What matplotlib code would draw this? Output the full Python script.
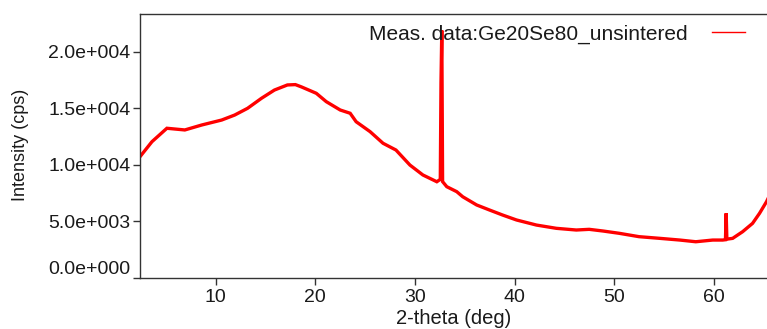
import numpy as np
import matplotlib
matplotlib.use("Agg")
import matplotlib.pyplot as plt
from matplotlib.ticker import FuncFormatter

plt.rcParams['font.family'] = ['Liberation Sans', 'DejaVu Sans']

# values
two_theta = [2.0, 2.4, 3.6, 5.1, 6.9, 8.6, 10.6, 11.9, 13.2, 14.6, 15.9, 17.2,
             18.0, 18.6, 20.1, 21.1, 22.5, 23.5, 24.1, 25.5, 26.8, 28.1, 29.5,
             30.8, 32.2, 32.55, 32.62, 32.70, 32.78, 33.2, 34.2, 34.8, 36.2,
             37.5, 38.8, 40.2, 42.2, 44.2, 46.2, 47.5, 48.9, 50.5, 52.5, 54.6,
             56.6, 58.2, 59.9, 60.9, 61.18, 61.25, 61.32, 61.9, 62.9, 63.9,
             64.6, 65.3, 66.0]
intensity = [10400, 10710, 12040, 13230, 13080, 13520, 13960, 14400, 15000,
             15890, 16620, 17070, 17100, 16900, 16330, 15590, 14850, 14560,
             13810, 12930, 11900, 11300, 9970, 9090, 8490, 8700, 17300, 21900,
             8500, 8050, 7610, 7160, 6430, 5980, 5540, 5100, 4650, 4360, 4210,
             4270, 4120, 3920, 3620, 3470, 3320, 3170, 3320, 3320, 3350, 5690,
             3400, 3470, 4060, 4800, 5690, 6720, 8000]

x_ticks = [10, 20, 30, 40, 50, 60]
y_ticks = [0, 5000, 10000, 15000, 20000]
series_name = 'Meas. data:Ge20Se80_unsintered'


def sci_fmt(v, pos):
    if v == 0:
        return '0.0e+000'
    e = int(np.floor(np.log10(abs(v))))
    m = v / 10**e
    return f'{m:.1f}e{e:+04d}'


fig = plt.figure(figsize=(7.67, 3.29), dpi=100)
ax = fig.add_axes([140/767, 1 - 278/329, 627/767, 264/329])

line, = ax.plot(two_theta, intensity, color='red', lw=2.4, label=series_name,
                solid_joinstyle='miter')

ax.set_xlim(2.4, 65.35)
ax.set_ylim(-44, 23360)
ax.set_xticks(x_ticks)
ax.set_yticks(y_ticks)
ax.yaxis.set_major_formatter(FuncFormatter(sci_fmt))

ax.spines['right'].set_visible(False)
for s in ['left', 'bottom', 'top']:
    ax.spines[s].set_color('#333333')
    ax.spines[s].set_linewidth(1.0)

ax.tick_params(axis='both', direction='out', length=5, width=1,
               color='#333333', labelsize=14, labelcolor='#1a1a1a')
ax.tick_params(axis='y', pad=2)
ax.tick_params(axis='x', pad=3)
fig.canvas.draw()
ax.get_yticklabels()[0].set_va('bottom')

ax.set_xlabel('2-theta (deg)', fontsize=14.5, color='#1a1a1a', labelpad=2)
fig.text(20.5/767, 1 - 145/329, 'Intensity (cps)', rotation=90,
         ha='center', va='center', fontsize=13, color='#1a1a1a')

leg = ax.legend(frameon=False, markerfirst=False, loc='upper right',
                bbox_to_anchor=(0.965, 0.96), borderaxespad=0, borderpad=0,
                handlelength=1.6, handletextpad=1.15, fontsize=15)
leg.get_lines()[0].set_linewidth(1.0)
for t in leg.get_texts():
    t.set_color('#1a1a1a')

fig.savefig('out.png', dpi=100)
